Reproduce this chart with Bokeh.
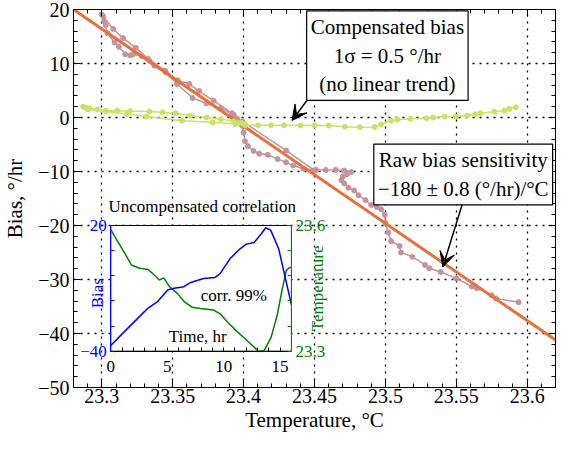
import numpy as np
from bokeh.plotting import figure
from bokeh.models import (Range1d, LinearAxis, FixedTicker, Label, Arrow, VeeHead,
                          CustomLabelingPolicy)
from bokeh.embed import file_html
from bokeh.resources import INLINE

# ---------------- data ----------------
raw_temp = [23.594, 23.578, 23.575, 23.5645, 23.561, 23.550, 23.539, 23.531, 23.528, 23.519,
            23.511, 23.510, 23.504, 23.502, 23.500, 23.4995, 23.497, 23.494, 23.490, 23.486,
            23.481, 23.478, 23.474, 23.471, 23.469, 23.470, 23.473, 23.476, 23.471, 23.465,
            23.458, 23.451, 23.442, 23.435, 23.430, 23.424, 23.417, 23.411, 23.407, 23.403,
            23.401, 23.400, 23.3988, 23.3953, 23.393, 23.384, 23.3737, 23.364, 23.353, 23.345,
            23.337, 23.3336, 23.328, 23.322, 23.320, 23.3165, 23.312, 23.309, 23.304, 23.3027,
            23.3016, 23.2999,
            23.301, 23.308, 23.315, 23.324, 23.3325, 23.3446, 23.3535, 23.3617, 23.3686, 23.3789,
            23.3919, 23.399, 23.430, 23.450]
raw_bias = [-34.2, -33.5, -32.9, -31.6, -31.3, -29.8, -28.6, -27.9, -27.3, -25.8,
            -25.0, -23.8, -22.9, -21.3, -19.5, -18.0, -17.0, -16.6, -16.2, -15.3,
            -14.4, -13.5, -13.0, -12.2, -11.6, -10.9, -10.5, -10.1, -9.8, -9.7,
            -9.7, -9.7, -9.5, -8.9, -8.3, -7.7, -6.9, -6.7, -6.2, -5.3,
            -4.4, -2.8, -1.5, -0.2, 0.5, 1.7, 2.6, 3.6, 6.2, 8.4,
            9.6, 10.5, 11.4, 11.7, 11.5, 11.7, 13.1, 13.9, 15.6, 17.1,
            17.8, 19.1,
            18.7, 16.4, 14.7, 12.9, 10.9, 8.7, 6.9, 6.2, 4.9, 3.1,
            0.8, -0.7, -6.1, -9.8]

comp_temp = [23.592, 23.5874, 23.584, 23.577, 23.567, 23.5634, 23.5577, 23.5497, 23.5417, 23.5337,
             23.529, 23.5177, 23.5085, 23.504, 23.497, 23.4925, 23.482, 23.4715, 23.460, 23.450,
             23.440, 23.4285, 23.4193, 23.4102, 23.401,
             23.3942, 23.3782, 23.3565, 23.3313, 23.3176, 23.3027, 23.2902, 23.2868,
             23.289, 23.2914, 23.297, 23.3027, 23.3108, 23.3199, 23.3336, 23.3428, 23.352, 23.3622,
             23.3737, 23.384, 23.3931, 23.3965, 23.3988, 23.401]
comp_bias = [1.9, 1.6, 1.27, 1.1, 0.8, 0.6, 0.36, 0.18, 0.18, 0.0,
             -0.12, -0.24, -0.4, -0.6, -1.3, -1.76, -1.8, -1.7, -1.5, -1.45,
             -1.5, -1.45, -1.45, -1.45, -1.45,
             -1.2, -0.9, -0.6, 0.18, 0.67, 1.1, 1.5, 2.0,
             1.8, 1.7, 1.5, 1.27, 1.27, 1.2, 1.1, 0.96, 0.8, 0.36,
             0.0, -0.3, -0.7, -1.0, -1.0, -1.2]

fit_temp = [23.28, 23.62]
fit_bias = [20.0, -41.2]

inset_time_b = [0.0, 1.27, 2.43, 3.3, 4.17, 5.04, 5.6, 6.47, 7.07, 8.22, 9.24, 9.68, 10.55,
                11.42, 12.0, 12.7, 13.3, 13.73, 14.16, 14.88, 15.47, 16.0]
inset_bias = [-37.3, -30.3, -24.1, -19.4, -16.2, -10.8, -10.0, -9.2, -7.2, -5.3, -4.8, -3.0, 4.1,
              8.75, 11.1, 11.9, 15.8, 18.9, 17.8, 8.75, -5.3, -17.8]
inset_time_t = [0.0, 0.4, 1.27, 1.85, 2.57, 3.3, 3.73, 4.3, 4.7, 5.2, 5.9, 6.47, 7.2, 7.9,
                9.1, 9.7, 10.4, 11.1, 11.85, 12.57, 13.1, 13.6, 14.2, 14.75, 15.2, 15.55, 15.85, 16.0]
inset_temp = [23.59, 23.571, 23.532, 23.505, 23.498, 23.495, 23.485, 23.47, 23.475, 23.454,
              23.438, 23.419, 23.405, 23.402, 23.398, 23.389, 23.368, 23.349, 23.331, 23.313,
              23.299, 23.302, 23.333, 23.387, 23.45, 23.493, 23.5, 23.499]

x_ticks = [23.3, 23.35, 23.4, 23.45, 23.5, 23.55, 23.6]
x_tick_labels = ["23.3", "23.35", "23.4", "23.45", "23.5", "23.55", "23.6"]
y_ticks = [-50, -40, -30, -20, -10, 0, 10, 20]
y_tick_labels = ["\u221250", "\u221240", "\u221230", "\u221220", "\u221210", "0", "10", "20"]
inset_t_ticks = [0, 5, 10, 15]
inset_t_labels = ["0", "5", "10", "15"]
inset_bias_ticks = [-40, 20]
inset_bias_labels = ["\u221240", "20"]
inset_temp_ticks = [23.3, 23.6]
inset_temp_labels = ["23.3", "23.6"]

# ---------------- style ----------------
FONT = "Liberation Serif"
PINK = "#C4939E"
ORANGE = "#E8703A"
LIME = "#CCE264"

X0, X1 = 23.28, 23.62
Y0, Y1 = -50, 20

p = figure(width=557, height=434, x_range=Range1d(X0, X1), y_range=Range1d(Y0, Y1),
           output_backend="svg", toolbar_location=None,
           min_border_left=66, min_border_right=2, min_border_top=9, min_border_bottom=40)
p.background_fill_color = "white"
p.border_fill_color = "white"
p.outline_line_color = "black"
p.outline_line_width = 1

x_minor = [round(v, 2) for v in np.arange(X0, X1 + 1e-9, 0.01)]
y_minor = list(range(Y0, Y1 + 1, 2))
xt = FixedTicker(ticks=x_ticks, minor_ticks=x_minor)
yt = FixedTicker(ticks=y_ticks, minor_ticks=y_minor)

xa = p.xaxis[0]
ya = p.yaxis[0]
for ax, tk, lab in ((xa, xt, dict(zip(x_ticks, x_tick_labels))), (ya, yt, dict(zip(y_ticks, y_tick_labels)))):
    ax.ticker = tk
    ax.major_label_overrides = lab
    ax.major_tick_in = 7
    ax.major_tick_out = 0
    ax.minor_tick_in = 4
    ax.minor_tick_out = 0
    ax.axis_line_color = "black"
    ax.major_tick_line_color = "black"
    ax.minor_tick_line_color = "black"
    ax.major_label_text_font = FONT
    ax.major_label_text_font_size = "20px"
    ax.major_label_text_line_height = 1.0
    ax.major_label_text_color = "black"
    ax.axis_label_text_font = FONT
    ax.axis_label_text_font_size = "21px"
    ax.axis_label_text_line_height = 1.0
    ax.axis_label_text_font_style = "normal"
    ax.axis_label_text_color = "black"
xa.axis_label = "Temperature, \u00b0C"
ya.axis_label = "Bias, \u00b0/hr"
xa.major_label_standoff = 1
xa.axis_label_standoff = 2
ya.major_label_standoff = 4
ya.axis_label_standoff = 8

no_labels = CustomLabelingPolicy(code="return new Set()")

def tick_axis(side, ticker, loc, color, tin, min_in, xr="default", yr="default", bounds="auto"):
    ax = LinearAxis(ticker=ticker, fixed_location=loc, bounds=bounds, x_range_name=xr, y_range_name=yr,
                    major_tick_in=tin, major_tick_out=0, minor_tick_in=min_in, minor_tick_out=0,
                    major_label_policy=no_labels, major_label_standoff=0,
                    major_label_text_font_size="0px",
                    axis_line_color=color, major_tick_line_color=color, minor_tick_line_color=color)
    p.add_layout(ax, side)
    return ax

tick_axis("above", xt, Y1, "black", 7, 4)
tick_axis("right", yt, X1, "black", 7, 4)

p.xgrid.ticker = xt
p.ygrid.ticker = yt
for g in (p.xgrid, p.ygrid):
    g.grid_line_color = "black"
    g.grid_line_dash = "2 5"
    g.grid_line_width = 1.3

# ---------------- inset ranges (placement of inset inside frame) ----------------
ins_l, ins_r = 0.0774, 0.4521
ins_t, ins_b = 0.5714, 0.9039
T0, T1 = 0.0, 16.0
B0, B1 = -40.0, 20.0
TE0, TE1 = 23.3, 23.6
sx = (T1 - T0) / (ins_r - ins_l)
sb = (B1 - B0) / (ins_b - ins_t)
st = (TE1 - TE0) / (ins_b - ins_t)
p.extra_x_ranges = {"t": Range1d(T0 - ins_l * sx, T0 + (1 - ins_l) * sx)}
p.extra_y_ranges = {"bias": Range1d(B1 - (1 - ins_t) * sb, B1 + ins_t * sb),
                    "temp": Range1d(TE1 - (1 - ins_t) * st, TE1 + ins_t * st)}

# ---------------- main data ----------------
p.line(raw_temp, raw_bias, line_color=PINK, line_width=1.5)
p.scatter(raw_temp, raw_bias, size=5, fill_color=PINK, line_color=PINK)
p.line(fit_temp, fit_bias, line_color=ORANGE, line_width=3)
p.line(comp_temp, comp_bias, line_color=LIME, line_width=1.5)
p.scatter(comp_temp, comp_bias, size=5, fill_color=LIME, line_color=LIME)

# ---------------- inset ----------------
p.quad(left=[T0], right=[T1], bottom=[B0], top=[B1], x_range_name="t", y_range_name="bias",
       fill_color="white", line_color="black", line_width=1)
p.line(inset_time_t, inset_temp, x_range_name="t", y_range_name="temp", line_color="green", line_width=1.5)
p.line(inset_time_b, inset_bias, x_range_name="t", y_range_name="bias", line_color="blue", line_width=1.5)

tick_axis("left", FixedTicker(ticks=inset_bias_ticks, minor_ticks=[-28, -16, -4, 8]), T0, "blue", 4, 4,
          "t", "bias", (B0, B1))
tick_axis("right", FixedTicker(ticks=inset_temp_ticks, minor_ticks=[23.36, 23.42, 23.48, 23.54]), T1, "green", 4, 4,
          "t", "temp", (TE0, TE1))
tick_axis("below", FixedTicker(ticks=inset_t_ticks, minor_ticks=[v for v in range(1, 16) if v % 5]), B0, "black", 4, 4,
          "t", "bias", (T0, T1))

def lab(x, y, text, xr="default", yr="default", size="17px", color="black", angle=0.0,
        align="center", baseline="middle", **kw):
    return Label(x=x, y=y, text=text, x_range_name=xr, y_range_name=yr, text_font=FONT,
                 text_font_size=size, text_color=color, text_align=align, text_baseline=baseline,
                 angle=angle, angle_units="deg", **kw)

# inset tick labels
for v, s in zip(inset_bias_ticks, inset_bias_labels):
    p.add_layout(lab(T0, v, s, "t", "bias", color="blue", align="right", x_offset=-4))
for v, s in zip(inset_temp_ticks, inset_temp_labels):
    p.add_layout(lab(T1, v, s, "t", "temp", color="green", align="left", x_offset=4))
for v, s in zip(inset_t_ticks, inset_t_labels):
    p.add_layout(lab(v, B0, s, "t", "bias", baseline="top", y_offset=-10))

p.add_layout(lab(8.1, 29.0, "Uncompensated correlation", "t", "bias"))
p.add_layout(lab(10.9, -13.3, "corr. 99%", "t", "bias"))
p.add_layout(lab(7.7, -33.0, "Time, hr", "t", "bias"))
p.add_layout(lab(-1.2, -12.3, "Bias", "t", "bias", color="blue", angle=90))
p.add_layout(lab(18.3, -10.0, "Temperature", "t", "bias", color="green", angle=90))

# ---------------- annotations ----------------
p.add_layout(Arrow(end=VeeHead(size=15, fill_color="black", line_color="black"),
                   x_start=23.4473, y_start=4.1, x_end=23.4342, y_end=-0.55,
                   line_color="black", line_width=1.5))
p.add_layout(Arrow(end=VeeHead(size=15, fill_color="black", line_color="black"),
                   x_start=23.5543, y_start=-16.0, x_end=23.5405, y_end=-27.7,
                   line_color="black", line_width=1.5))
p.add_layout(lab(23.5014, 11.45, "Compensated bias\n1\u03c3 = 0.5 \u00b0/hr\n(no linear trend)",
                 size="21px", border_line_color="black", border_line_width=1.2,
                 background_fill_color="white", padding=4, text_line_height=1.2))
p.add_layout(lab(23.5549, -10.55, "Raw bias sensitivity\n\u2212180 \u00b1 0.8 (\u00b0/hr)/\u00b0C",
                 size="21px", border_line_color="black", border_line_width=1.2,
                 background_fill_color="white", padding=4, text_line_height=1.2))

open("out.html", "w").write(file_html(p, INLINE))
